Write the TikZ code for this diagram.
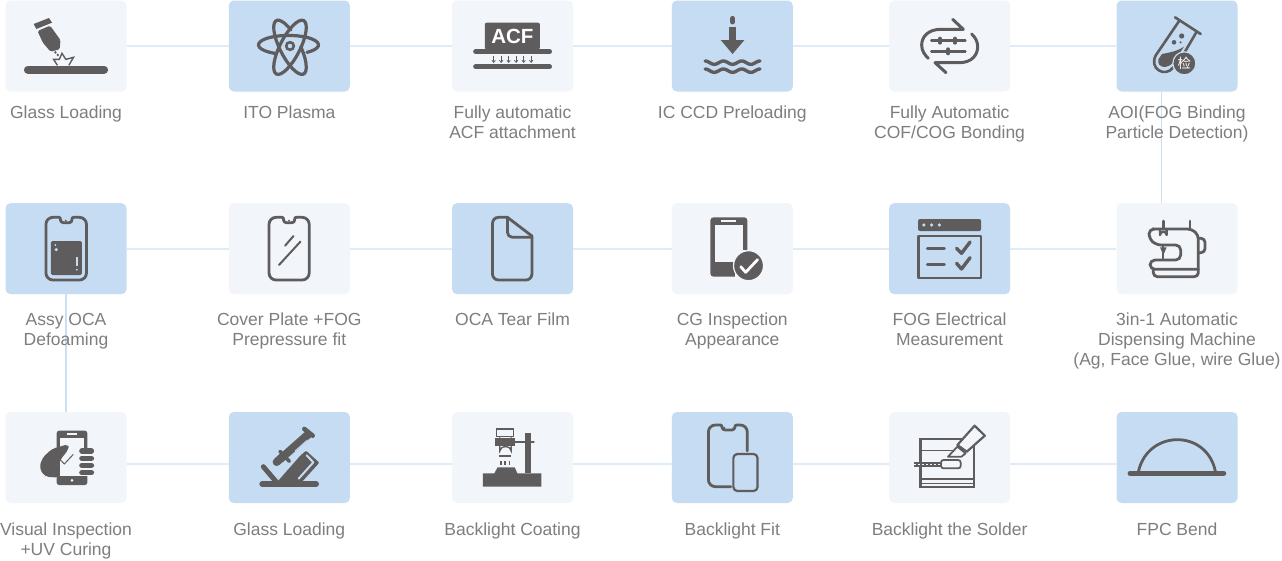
\documentclass[tikz,border=0pt]{standalone}
\usepackage{fontspec}
\setmainfont{Liberation Sans}
\newfontfamily\cjkfont{Noto Sans CJK SC}
\usetikzlibrary{arrows.meta}
\definecolor{boxl}{HTML}{F2F6FB}
\definecolor{boxb}{HTML}{C5DCF2}
\definecolor{linkc}{HTML}{DFECF8}
\definecolor{linkv}{HTML}{CBDFF3}
\definecolor{inkc}{HTML}{5F5C5D}
\definecolor{txtc}{HTML}{7E7E7E}
\tikzset{
  tile/.style={rectangle,rounded corners=5pt,minimum width=121pt,minimum height=91pt,inner sep=0pt,draw=none},
  tl/.style={tile,fill=boxl},
  tb/.style={tile,fill=boxb},
  link/.style={draw=linkc,line width=2pt},
  vlink/.style={draw=linkv,line width=1.2pt},
  lab/.style={anchor=north,inner sep=0pt,align=center,text=txtc,font=\fontsize{17.5}{20}\selectfont},
  za/.style={x=0.38267pt,y=-0.33333pt,shift={(0pt,-#1pt)}},
  zb/.style={x=0.40953pt,y=-0.33333pt,shift={(640pt,-#1pt)}},
  zz/.style args={#1/#2}{x=0.33333pt,y=-0.33333pt,shift={(#1pt,-#2pt)}},
  ln/.style={draw=inkc,line width=#1,line cap=round,line join=round},
  ln/.default=2.8pt,
}
\newcommand{\st}{\rule{0pt}{14pt}}
\begin{document}
\begin{tikzpicture}[x=1pt,y=-1pt]
\useasboundingbox (0,0) rectangle (1282,560);
\fill[white] (0,0) rectangle (1282,560);
% tiles
\node[tl] (a1) at (66,46) {};
\node[tb] (a2) at (289.3,46) {};
\node[tl] (a3) at (512.5,46) {};
\node[tb] (a4) at (732.3,46) {};
\node[tl] (a5) at (949.6,46) {};
\node[tb] (a6) at (1177,46) {};
\node[tb] (b1) at (66,248.7) {};
\node[tl] (b2) at (289.3,248.7) {};
\node[tb] (b3) at (512.5,248.7) {};
\node[tl] (b4) at (732.3,248.7) {};
\node[tb] (b5) at (949.6,248.7) {};
\node[tl] (b6) at (1177,248.7) {};
\node[tl] (c1) at (66,457.5) {};
\node[tb] (c2) at (289.3,457.5) {};
\node[tl] (c3) at (512.5,457.5) {};
\node[tb] (c4) at (732.3,457.5) {};
\node[tl] (c5) at (949.6,457.5) {};
\node[tb] (c6) at (1177,457.5) {};
% links
\foreach \p/\q in {a1/a2,a2/a3,a3/a4,a4/a5,a5/a6,b1/b2,b2/b3,b3/b4,b4/b5,b5/b6}
  \draw[link] (\p.east) -- (\q.west);
\foreach \p/\q in {c1/c2,c2/c3,c3/c4,c4/c5,c5/c6}
  \draw[link] ([yshift=-6pt]\p.east) -- ([yshift=-6pt]\q.west);
\draw[vlink] ([xshift=-15.7pt]a6.south) -- ([xshift=-15.7pt]b6.north);
\draw[vlink] (b1.south) -- (c1.north);
% labels
\node[lab] (la1) at (66,104) {\st Glass Loading};
\node[lab] (la2) at (289.3,104) {\st ITO Plasma};
\node[lab] (la3) at (512.5,104) {\st Fully automatic\\ACF attachment};
\node[lab] (la4) at (732.3,104) {\st IC CCD Preloading};
\node[lab] (la5) at (949.6,104) {\st Fully Automatic\\COF/COG Bonding};
\node[lab] (la6) at (1177,104) {\st AOI(FOG Binding\\Particle Detection)};
\node[lab] (lb1) at (66,311) {\st Assy OCA\\Defoaming};
\node[lab] (lb2) at (289.3,311) {\st Cover Plate +FOG\\Prepressure fit};
\node[lab] (lb3) at (512.5,311) {\st OCA Tear Film};
\node[lab] (lb4) at (732.3,311) {\st CG Inspection\\Appearance};
\node[lab] (lb5) at (949.6,311) {\st FOG Electrical\\Measurement};
\node[lab] (lb6) at (1177,311) {\st 3in-1 Automatic\\Dispensing Machine\\(Ag, Face Glue, wire Glue)};
\node[lab] (lc1) at (66,521) {\st Visual Inspection\\+UV Curing};
\node[lab] (lc2) at (289.3,521) {\st Glass Loading};
\node[lab] (lc3) at (512.5,521) {\st Backlight Coating};
\node[lab] (lc4) at (732.3,521) {\st Backlight Fit};
\node[lab] (lc5) at (949.6,521) {\st Backlight the Solder};
\node[lab] (lc6) at (1177,521) {\st FPC Bend};
% ---------- row 1 left half
\begin{scope}[za=0]
 \fill[inkc] (88,72)--(128,54)--(136,68)--(95,87)--cycle;
 \fill[inkc,rounded corners=1.5pt] (98,93)--(131,77)--(158,120)--(156,148)--(132,155)--(112,128)--cycle;
 \draw[inkc,line width=1.8pt,dash pattern=on 2pt off 1.5pt] (143,155)--(155,170);
 \draw[inkc,line width=1.4pt,line join=miter] (150,196)--(140,178)--(155,178)--(162,160)--(172,178)--(192,172)--(180,196);
 \draw[ln=8pt] (73,209)--(272,209);
 \fill[inkc,rounded corners=2pt] (1267,68) rectangle (1411,148);
 \node[inner sep=0pt,text=white,font=\fontsize{20.5}{22}\selectfont\bfseries] (acf) at (1339,110) {ACF};
 \draw[ln=5pt] (1243,155)--(1436,155);
 \draw[ln=5pt] (1243,200)--(1436,200);
 \foreach \i in {0,...,5}
   \draw[inkc,line width=.7pt,-{Straight Barb[length=2.2pt,width=3.4pt]}] ({1290+\i*19.6},167)--({1290+\i*19.6},189);
\end{scope}
% atom
\begin{scope}[shift={(290pt,-47.3pt)}]
 \begin{scope}[rotate=117]
  \draw[inkc,line width=3.2pt,line cap=round] (300:30pt and 10pt) arc[start angle=300,end angle=622,x radius=30pt,y radius=10pt];
 \end{scope}
 \begin{scope}[rotate=63]
  \draw[inkc,line width=3.2pt] (0,0) ellipse[x radius=30pt,y radius=10pt];
 \end{scope}
 \begin{scope}[yshift=2.4pt,xshift=-1.5pt]
  \draw[inkc,line width=3.2pt,line cap=round] (-52:30pt and 9.5pt) arc[start angle=-52,end angle=244,x radius=30pt,y radius=9.5pt];
 \end{scope}
 \draw[inkc,line width=2.6pt] (0,1.3pt) circle[radius=3.8pt];
\end{scope}
% ---------- row 1 right half
\begin{scope}[zb=0]
 \draw[ln=5.5pt] (226,56)--(226,65);
 \fill[inkc] (218,80) rectangle (234,122);
 \fill[inkc] (197,120)--(255,120)--(226,162)--cycle;
 \foreach \yy in {188,212}
  \draw[ln=3.4pt] plot[smooth,domain=159:293,samples=50] (\x,{\yy+5*sin(8.06*(\x-159)-90)});
\end{scope}
% loop
\begin{scope}[zz=910/10]
 \draw[ln=3pt] (128,28)--(160,58)--(92,58) .. controls (55,58) and (35,80) .. (35,105) .. controls (35,122) and (44,135) .. (55,145);
 \draw[ln=3pt] (108,188)--(75,158)--(148,158) .. controls (185,158) and (203,135) .. (203,110) .. controls (203,95) and (196,82) .. (185,72);
 \draw[ln=2.6pt] (64,92)--(166,92);
 \draw[ln=2.6pt] (64,124)--(166,124);
 \foreach \xx/\yy in {90/92,135/92,115/124}
  \draw[ln=4pt] (\xx,\yy-6)--(\xx,\yy+6);
\end{scope}
% test tube
\begin{scope}[zz=1140/10]
 \draw[ln=2.6pt] (105,22)--(182,72);
 \draw[ln=2.6pt] (118,32)--(48,135) .. controls (25,175) and (75,205) .. (100,172);
 \draw[ln=2.6pt] (170,65)--(135,125);
 \fill[inkc] (66,132) .. controls (85,128) and (110,125) .. (132,110)--(104,152) .. controls (85,180) and (50,175) .. (55,148)--cycle;
 \fill[inkc] (125,78) circle[radius=2.6pt];
 \fill[inkc] (102,97) circle[radius=2.3pt];
 \fill[inkc] (122,97) circle[radius=1.1pt];
 \draw[fill=inkc,draw=boxb,line width=1.2pt] (133,160) circle[radius=11.5pt];
 \node[inner sep=0pt,text=white,font=\cjkfont\fontsize{13.5}{14}\selectfont] (jian) at (133,160) {检};
\end{scope}
% ---------- row 2 left half
\begin{scope}[za=195]
 \draw[ln,rounded corners=7pt] (155,67)--(120,67)--(120,255)--(226,255)--(226,67)--(191,67);
 \draw[ln] (155,67) .. controls (160,67) and (155,83) .. (165,83)--(181,83) .. controls (191,83) and (186,67) .. (191,67);
 \fill[inkc] (172,77) circle[radius=1pt];
 \fill[inkc,rounded corners=1.5pt] (133,138) rectangle (214,240);
 \fill[boxb] (145,150) circle[radius=1pt] (147,164) circle[radius=1.8pt] (201,224) circle[radius=1pt];
 \draw[boxb,line width=1.3pt] (201,187)--(201,214);
 \draw[ln,rounded corners=7pt] (738,67)--(703,67)--(703,255)--(808,255)--(808,67)--(773,67);
 \draw[ln] (738,67) .. controls (743,67) and (738,83) .. (748,83)--(763,83) .. controls (773,83) and (768,67) .. (773,67);
 \fill[inkc] (755,77) circle[radius=1pt];
 \draw[ln=2pt] (745,152)--(767,123);
 \draw[ln=2pt] (729,210)--(785,140);
 \draw[ln,rounded corners=6pt] (1326,67)--(1287,67)--(1287,255)--(1390,255)--(1390,123);
 \draw[ln] (1326,67)--(1390,123);
 \draw[ln,rounded corners=5pt] (1326,67)--(1326,127)--(1390,127);
\end{scope}
% ---------- row 2 right half
\begin{scope}[zb=195]
 \fill[inkc,rounded corners=3pt] (172,67) rectangle (262,245);
 \fill[boxl] (182,90) rectangle (252,200);
 \draw[boxl,line width=1.1pt] (198,78)--(235,78);
 \fill[boxl] (232,165) rectangle (264,250);
 \fill[inkc] (252,90) rectangle (262,165);
 \draw[fill=inkc,draw=boxl,line width=1.2pt] (265,212) circle[radius=15pt];
 \draw[white,line width=2.8pt,line cap=round,line join=round] (246,215)--(258,232)--(287,194);
 \fill[inkc,rounded corners=2pt] (679,72)--(833,72)--(833,108)--(679,108)--cycle;
 \fill[boxb] (693,90) circle[radius=1.8pt] (712,90) circle[radius=1.8pt] (731,90) circle[radius=1.8pt];
 \draw[ln=2.2pt] (680,122) rectangle (832,248);
 \draw[ln=3.4pt] (702,161)--(743,161);
 \draw[ln=3.4pt] (702,208)--(743,208);
 \draw[ln=3.4pt] (773,160)--(785,175)--(806,141);
 \draw[ln=3.4pt] (773,205)--(785,222)--(806,188);
\end{scope}
% sewing machine
\begin{scope}[zz=1140/210]
 \draw[ln=2.8pt,rounded corners=4pt] (38,57)--(155,57)--(175,75)--(175,200)--(40,200)--(40,178);
 \draw[ln=2.8pt,rounded corners=5pt] (38,57)--(27,57)--(27,85)--(48,105)--(122,105)--(122,150)--(30,150)--(30,178)--(175,178);
 \draw[ln=2.8pt] (70,33)--(70,57);
 \draw[ln=2.8pt] (150,33)--(150,57);
 \draw[ln=2.4pt] (60,57)--(60,75) arc[start angle=180,end angle=360,x radius=10,y radius=10]--(80,57);
 \draw[ln=1.8pt] (70,105)--(70,145);
 \fill[inkc] (60,112)--(80,112)--(70,135)--cycle;
 \draw[ln=2.8pt,rounded corners=4pt] (175,85)--(195,85)--(195,128)--(175,128);
\end{scope}
% ---------- row 3 left half
\begin{scope}[zz=30/425]
 \fill[inkc,rounded corners=2.5pt] (80,17) rectangle (172,180);
 \fill[boxl] (90,38) rectangle (162,153);
 \draw[boxl,line width=1.1pt] (110,27)--(140,27);
 \fill[boxl] (126,166) circle[radius=1.5pt];
 \fill[inkc,rounded corners=4pt] (116,57)--(65,72)--(36,100)--(28,130)--(45,155)--(88,158)--(88,108)--(116,73)--cycle;
 \draw[inkc,line width=1pt,line join=round] (87,100)--(103,117)--(130,88);
 \foreach \yy in {78,100,121,143}
  \draw[draw=boxl,line width=7pt,line cap=round] (156,\yy)--(184,\yy);
 \foreach \yy in {78,100,121,143}
  \draw[draw=inkc,line width=5.6pt,line cap=round] (156,\yy)--(184,\yy);
\end{scope}
\begin{scope}[zz=250/420]
 \draw[ln=6pt] (37,192)--(198,192);
 \draw[ln=5pt] (40,140)--(80,187);
 \fill[inkc,rounded corners=1pt] (76,192)--(150,108)--(168,92)--(208,128)--(150,192)--cycle;
 \draw[boxb,line width=2pt,line cap=round,line join=round] (170,106)--(190,127)--(146,176);
 \draw[ln=8pt,line cap=butt] (90,118)--(178,40);
 \draw[boxb,line width=.9pt] (135,93)--(172,60);
 \draw[ln=4.6pt] (163,27)--(188,47);
 \draw[ln=3.6pt] (90,94)--(118,124);
 \draw[ln=8pt] (80,126)--(100,108);
\end{scope}
\begin{scope}[za=405]
 % coating stand
 \fill[inkc] (1262,205)--(1292,205)--(1300,187)--(1345,187)--(1352,205)--(1415,205)--(1415,245)--(1262,245)--cycle;
 \fill[inkc] (1373,83) rectangle (1387,205);
 \draw[ln=1.8pt] (1345,110)--(1395,110);
 \draw[inkc,line width=1.4pt] (1298,72) rectangle (1342,95);
 \fill[inkc] (1293,100) rectangle (1347,122);
 \draw[inkc,line width=1.4pt] (1306,97)--(1306,138) arc[start angle=180,end angle=360,x radius=15,y radius=13]--(1336,97);
 \draw[inkc,line width=1.2pt] (1305,153)--(1335,153);
 \foreach \xx in {1309,1320,1331}
  \draw[inkc,line width=1.5pt] (\xx,168)--(\xx,180);
\end{scope}
% ---------- row 3 right half
\begin{scope}[zb=405]
 \draw[ln,rounded corners=7pt] (262,138)--(262,60)--(235,60);
 \draw[ln,rounded corners=7pt] (197,60)--(167,60)--(167,245)--(222,245);
 \draw[ln] (197,60) .. controls (202,60) and (198,75) .. (208,75)--(224,75) .. controls (234,75) and (230,60) .. (235,60);
 \fill[inkc] (206,68) circle[radius=1pt];
 \draw[ln=2.2pt,rounded corners=4pt] (228,147) rectangle (287,258);
 \draw[inkc,line width=2.2pt] (685,103) rectangle (815,245);
 \draw[inkc,line width=1.2pt] (685,137)--(772,137);
 \draw[inkc,line width=1.6pt] (685,222)--(815,222);
 \draw[inkc,line width=1.6pt] (685,235)--(815,235);
 \draw[fill=boxl,draw=inkc,line width=1.8pt,line join=round] (752,155)--(775,125)--(795,145)--(785,155)--cycle;
 \draw[fill=boxl,draw=inkc,line width=2.2pt,line join=round] (775,120)--(817,62)--(842,92)--(798,140)--cycle;
 \draw[inkc,line width=4.4pt,line cap=butt] (668,178)--(735,178);
 \draw[boxl,line width=1.4pt,dash pattern=on 2pt off 2pt] (670,178)--(733,178);
 \draw[fill=boxl,draw=inkc,line width=1.8pt,rounded corners=2.5pt] (735,165) rectangle (783,190);
 \draw[ln=5.4pt] (1197,205)--(1425,205);
 \draw[ln=2.8pt] (1217,200) .. controls (1240,72) and (1385,72) .. (1405,200);
\end{scope}
\end{tikzpicture}
\end{document}
